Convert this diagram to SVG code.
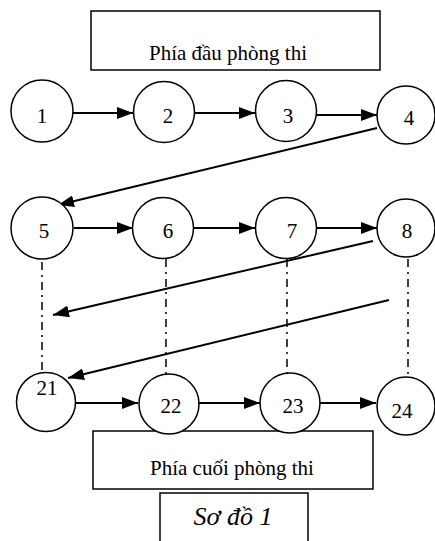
<svg xmlns="http://www.w3.org/2000/svg" width="435" height="541" viewBox="0 0 435 541">
  <defs>
    <marker id="arrow" viewBox="0 0 16 12" refX="16" refY="6" markerWidth="16" markerHeight="12" markerUnits="userSpaceOnUse" orient="auto">
      <path d="M0,0 L16,6 L0,12 Z" fill="#000"/>
    </marker>
    <style>
      .box { fill: #fff; stroke: #000; stroke-width: 1.5; }
      .seat { fill: #fff; stroke: #000; stroke-width: 1.5; }
      .label { font-family: "Liberation Serif", "Times New Roman", serif; font-size: 21px; fill: #000; text-anchor: middle; }
      .num { font-family: "Liberation Serif", "Times New Roman", serif; font-size: 21px; fill: #000; text-anchor: middle; }
      .title { font-family: "Liberation Serif", "Times New Roman", serif; font-size: 26px; font-style: italic; fill: #000; text-anchor: middle; }
      .flow { stroke: #000; stroke-width: 2; fill: none; marker-end: url(#arrow); }
      .plain { stroke: #000; stroke-width: 2; fill: none; }
      .column { stroke: #000; stroke-width: 1.5; fill: none; stroke-dasharray: 8 5 2 5; }
    </style>
  </defs>

  <!-- front of the exam room -->
  <g id="front">
    <rect class="box" x="91" y="11" width="289" height="59"/>
    <text class="label" x="228" y="60">Phía đầu phòng thi</text>
  </g>

  <!-- back of the exam room -->
  <g id="back">
    <rect class="box" x="93" y="431" width="280" height="58"/>
    <text class="label" x="232" y="475">Phía cuối phòng thi</text>
  </g>

  <!-- caption -->
  <g id="caption">
    <rect class="box" x="160" y="493" width="148" height="60"/>
    <text class="title" x="233" y="525">Sơ đồ 1</text>
  </g>

  <!-- connectors -->
  <g id="connectors">
    <!-- row 1 -->
    <line class="flow" x1="73" y1="113" x2="133" y2="113"/>
    <line class="flow" x1="194" y1="113" x2="255" y2="113"/>
    <line class="flow" x1="316" y1="115" x2="377" y2="115"/>
    <line class="flow" x1="377" y1="128" x2="58" y2="205"/>
    <!-- row 2 -->
    <line class="flow" x1="74" y1="228" x2="133" y2="228"/>
    <line class="flow" x1="194" y1="228" x2="255" y2="228"/>
    <line class="flow" x1="316" y1="228" x2="377" y2="228"/>
    <line class="flow" x1="373" y1="241" x2="53" y2="315"/>
    <line class="flow" x1="389" y1="300" x2="68" y2="378"/>
    <!-- columns -->
    <line class="column" x1="42" y1="262" x2="42" y2="373"/>
    <line class="column" x1="166" y1="259" x2="166" y2="377"/>
    <line class="column" x1="287" y1="259" x2="287" y2="375"/>
    <line class="column" x1="408" y1="259" x2="408" y2="378"/>
    <!-- row 3 -->
    <line class="flow" x1="76" y1="403" x2="138" y2="403"/>
    <line class="flow" x1="199" y1="403" x2="260" y2="403"/>
    <line class="flow" x1="320" y1="403" x2="376" y2="403"/>
  </g>

  <!-- seats -->
  <g id="seat-1"><circle class="seat" cx="42" cy="111" r="31"/><text class="num" x="42" y="123">1</text></g>
  <g id="seat-2"><circle class="seat" cx="164" cy="112" r="30.5"/><text class="num" x="168" y="123">2</text></g>
  <g id="seat-3"><circle class="seat" cx="286" cy="111" r="30.5"/><text class="num" x="288" y="123">3</text></g>
  <g id="seat-4"><circle class="seat" cx="406" cy="115" r="29"/><text class="num" x="409" y="125">4</text></g>

  <g id="seat-5"><circle class="seat" cx="42" cy="228" r="31"/><text class="num" x="44" y="238">5</text></g>
  <g id="seat-6"><circle class="seat" cx="163" cy="228" r="30.5"/><text class="num" x="168" y="238">6</text></g>
  <g id="seat-7"><circle class="seat" cx="286" cy="228" r="30.5"/><text class="num" x="292" y="238">7</text></g>
  <g id="seat-8"><circle class="seat" cx="406" cy="228" r="29"/><text class="num" x="407" y="238">8</text></g>

  <g id="seat-21"><circle class="seat" cx="46" cy="402" r="29.5"/><text class="num" x="47" y="395">21</text></g>
  <g id="seat-22"><circle class="seat" cx="169" cy="404" r="30"/><text class="num" x="171" y="413">22</text></g>
  <g id="seat-23"><circle class="seat" cx="290" cy="403" r="30"/><text class="num" x="293" y="413">23</text></g>
  <g id="seat-24"><circle class="seat" cx="406" cy="406" r="29"/><text class="num" x="402" y="418">24</text></g>
</svg>
